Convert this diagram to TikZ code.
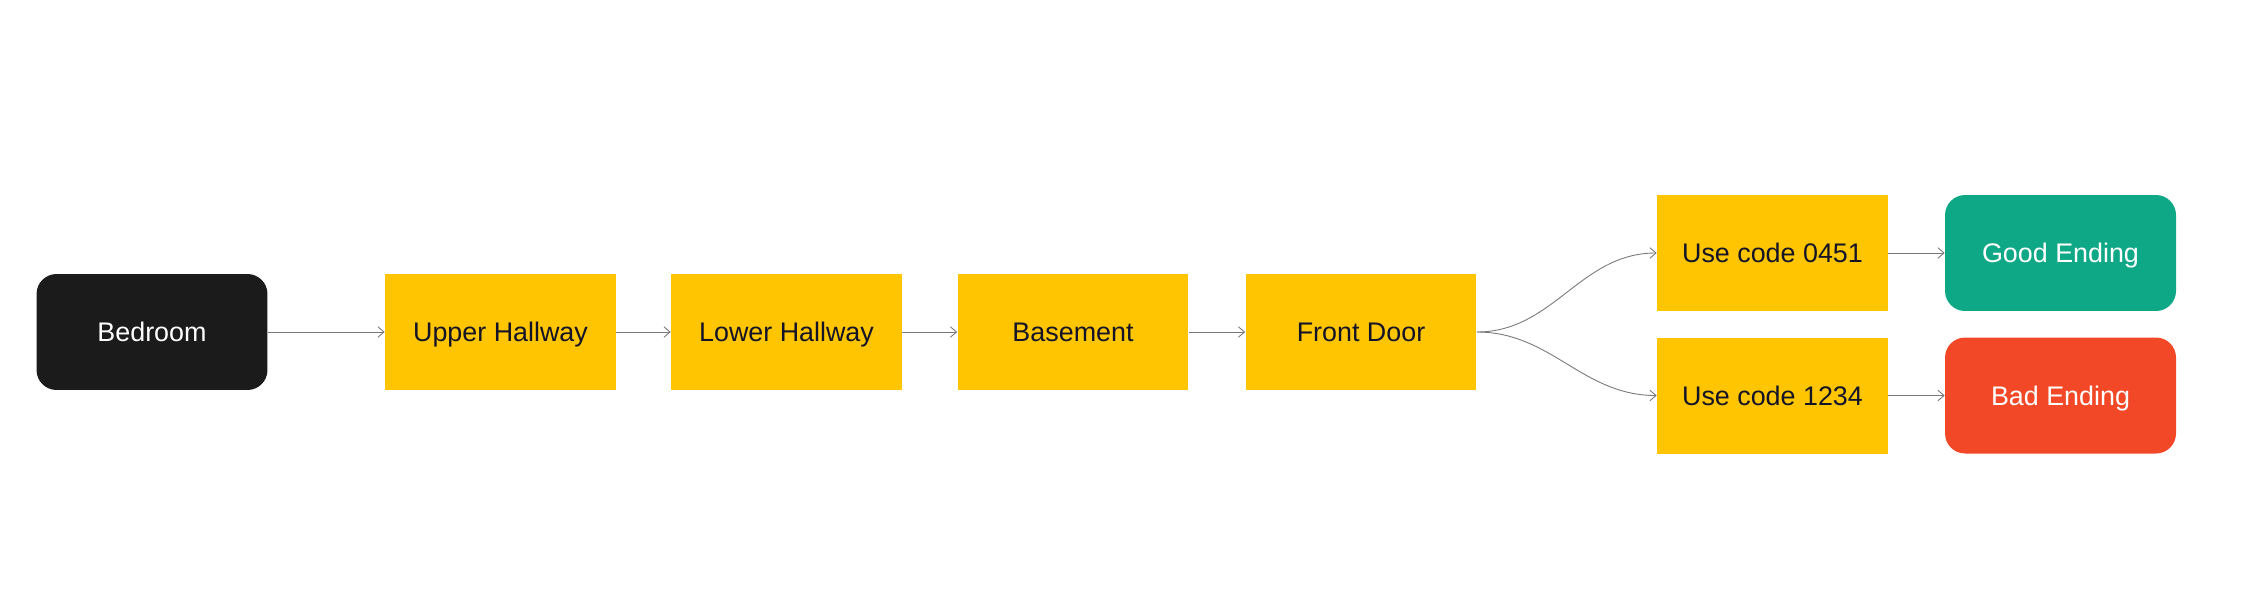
\documentclass[tikz,border=0pt]{standalone}
\usepackage{fontspec}
\setmainfont{Liberation Sans}
\usepackage{tikz}
\usetikzlibrary{arrows.meta}
\definecolor{jaune}{RGB}{255,197,0}
\definecolor{noir}{RGB}{27,27,27}
\definecolor{vert}{RGB}{14,168,135}
\definecolor{rouge}{RGB}{242,72,39}
\definecolor{encre}{RGB}{20,20,40}
\definecolor{fil}{RGB}{120,120,120}
\begin{document}
\begin{tikzpicture}[x=0.02cm,y=-0.02cm,
  piece/.style={fill=jaune,text=encre,minimum width=4.62cm,minimum height=2.32cm,inner sep=0,
    text height=11pt,text depth=0pt,font=\fontsize{15.3}{18}\selectfont},
  fin/.style={piece,rounded corners=0.4cm,text=white},
  lien/.style={draw=fil,line width=0.5pt,-{Straight Barb[length=3.5pt,width=6pt]}}]
\useasboundingbox (0,0) rectangle (2244,596);
% la suite des pieces
\node[fin,fill=noir](bedroom)at(152,332){Bedroom};
\node[piece](upper)at(500.5,332){Upper Hallway};
\node[piece](lower)at(786.5,332){Lower Hallway};
\node[piece](basement)at(1073,332){Basement};
\node[piece](door)at(1361,332){Front Door};
% les deux codes
\node[piece](codeA)at(1772.5,253){Use code 0451};
\node[piece](codeB)at(1772.5,395.5){Use code 1234};
\node[fin,fill=vert](good)at(2060.5,253){Good Ending};
\node[fin,fill=rouge](bad)at(2060.5,395.5){Bad Ending};
\draw[lien](bedroom)--(upper);
\draw[lien](upper)--(lower);
\draw[lien](lower)--(basement);
\draw[lien](basement)--(door);
\draw[lien](door.east)to[out=0,in=180](codeA.west);
\draw[lien](door.east)to[out=0,in=180](codeB.west);
\draw[lien](codeA)--(good);
\draw[lien](codeB)--(bad);
\end{tikzpicture}
\end{document}
